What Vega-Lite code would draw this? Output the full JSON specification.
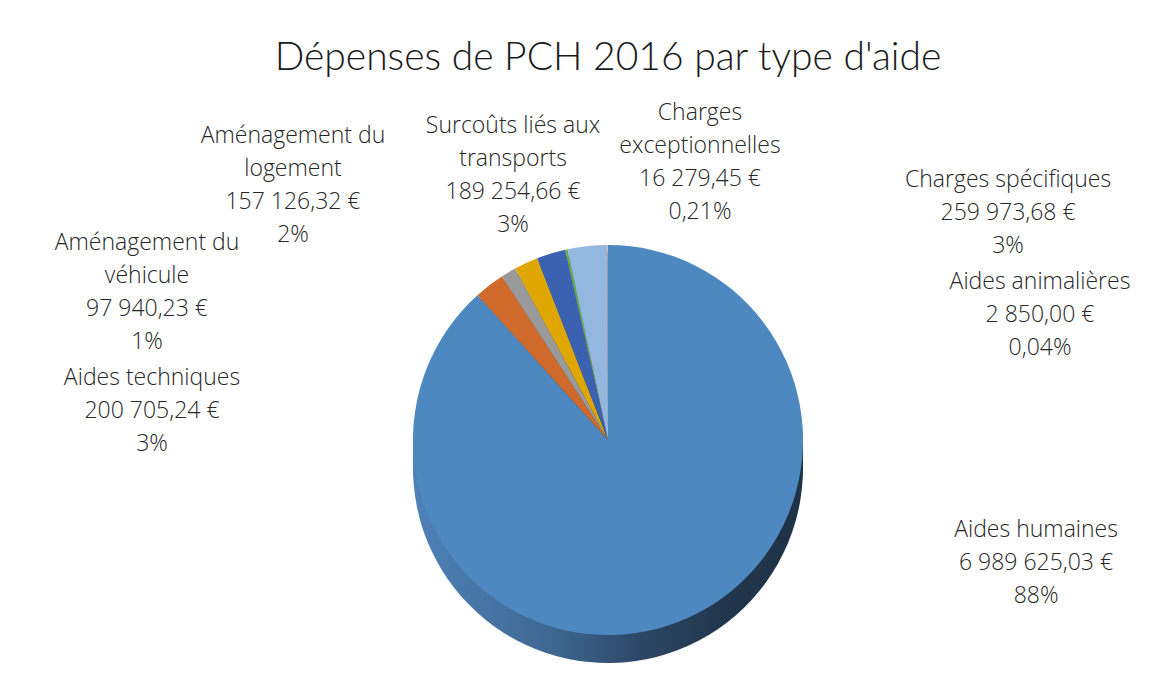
{
  "$schema": "https://vega.github.io/schema/vega-lite/v6.json",
  "autosize": {"type": "none"},
  "width": 1120,
  "height": 470,
  "padding": {"left": 48, "top": 205, "right": 0, "bottom": 0},
  "background": "#ffffff",
  "config": {"view": {"stroke": null}},
  "title": {
    "text": "Dépenses de PCH 2016 par type d'aide",
    "font": "Lato",
    "fontSize": 39,
    "fontWeight": 300,
    "color": "#1a1a1a",
    "anchor": "middle",
    "offset": 24
  },
  "data": {
    "values": [
      {"Rang": 1, "Type": "Aides humaines", "Montant": 6989625.03, "Libelle": "Aides humaines\n6 989 625,03 €\n88%"},
      {"Rang": 2, "Type": "Aides techniques", "Montant": 200705.24, "Libelle": "Aides techniques\n200 705,24 €\n3%"},
      {"Rang": 3, "Type": "Aménagement du véhicule", "Montant": 97940.23, "Libelle": "Aménagement du\nvéhicule\n97 940,23 €\n1%"},
      {"Rang": 4, "Type": "Aménagement du logement", "Montant": 157126.32, "Libelle": "Aménagement du\nlogement\n157 126,32 €\n2%"},
      {"Rang": 5, "Type": "Surcoûts liés aux transports", "Montant": 189254.66, "Libelle": "Surcoûts liés aux\ntransports\n189 254,66 €\n3%"},
      {"Rang": 6, "Type": "Charges exceptionnelles", "Montant": 16279.45, "Libelle": "Charges\nexceptionnelles\n16 279,45 €\n0,21%"},
      {"Rang": 7, "Type": "Charges spécifiques", "Montant": 259973.68, "Libelle": "Charges spécifiques\n259 973,68 €\n3%"},
      {"Rang": 8, "Type": "Aides animalières", "Montant": 2850.00, "Libelle": "Aides animalières\n2 850,00 €\n0,04%"}
    ]
  },
  "layer": [
    {
      "mark": {"type": "arc", "outerRadius": 195, "yOffset": 28, "stroke": null,
        "fill": {"gradient": "linear", "x1": 0, "x2": 1, "y1": 0, "y2": 0,
          "stops": [{"offset": 0, "color": "#4E82B8"}, {"offset": 0.35, "color": "#3F6892"}, {"offset": 0.6, "color": "#2B4563"}, {"offset": 0.8, "color": "#22364C"}, {"offset": 1, "color": "#1F3145"}]}},
      "encoding": {
        "theta": {"field": "Montant", "type": "quantitative", "stack": true},
        "order": {"field": "Rang", "type": "quantitative"},
        "detail": {"field": "Type", "type": "nominal"}
      }
    },
    {
      "mark": {"type": "arc", "outerRadius": 195, "yOffset": 21, "stroke": null,
        "fill": {"gradient": "linear", "x1": 0, "x2": 1, "y1": 0, "y2": 0,
          "stops": [{"offset": 0, "color": "#4E82B8"}, {"offset": 0.35, "color": "#3F6892"}, {"offset": 0.6, "color": "#2B4563"}, {"offset": 0.8, "color": "#22364C"}, {"offset": 1, "color": "#1F3145"}]}},
      "encoding": {
        "theta": {"field": "Montant", "type": "quantitative", "stack": true},
        "order": {"field": "Rang", "type": "quantitative"},
        "detail": {"field": "Type", "type": "nominal"}
      }
    },
    {
      "mark": {"type": "arc", "outerRadius": 195, "yOffset": 14, "stroke": null,
        "fill": {"gradient": "linear", "x1": 0, "x2": 1, "y1": 0, "y2": 0,
          "stops": [{"offset": 0, "color": "#4E82B8"}, {"offset": 0.35, "color": "#3F6892"}, {"offset": 0.6, "color": "#2B4563"}, {"offset": 0.8, "color": "#22364C"}, {"offset": 1, "color": "#1F3145"}]}},
      "encoding": {
        "theta": {"field": "Montant", "type": "quantitative", "stack": true},
        "order": {"field": "Rang", "type": "quantitative"},
        "detail": {"field": "Type", "type": "nominal"}
      }
    },
    {
      "mark": {"type": "arc", "outerRadius": 195, "yOffset": 7, "stroke": null,
        "fill": {"gradient": "linear", "x1": 0, "x2": 1, "y1": 0, "y2": 0,
          "stops": [{"offset": 0, "color": "#4E82B8"}, {"offset": 0.35, "color": "#3F6892"}, {"offset": 0.6, "color": "#2B4563"}, {"offset": 0.8, "color": "#22364C"}, {"offset": 1, "color": "#1F3145"}]}},
      "encoding": {
        "theta": {"field": "Montant", "type": "quantitative", "stack": true},
        "order": {"field": "Rang", "type": "quantitative"},
        "detail": {"field": "Type", "type": "nominal"}
      }
    },
    {
      "mark": {"type": "arc", "outerRadius": 195, "stroke": null},
      "encoding": {
        "theta": {"field": "Montant", "type": "quantitative", "stack": true},
        "order": {"field": "Rang", "type": "quantitative"},
        "color": {
          "field": "Type", "type": "nominal", "legend": null,
          "scale": {
            "domain": ["Aides humaines", "Aides techniques", "Aménagement du véhicule", "Aménagement du logement", "Surcoûts liés aux transports", "Charges exceptionnelles", "Charges spécifiques", "Aides animalières"],
            "range": ["#4E88C0", "#D06A2C", "#9A9A9A", "#E0A600", "#3A62B0", "#6AAA4A", "#94B7DF", "#F0A070"]
          }
        }
      }
    },
    {
      "mark": {"type": "text", "font": "Open Sans", "fontSize": 23, "fontWeight": 300, "lineHeight": 33, "lineBreak": "\n", "align": "center", "baseline": "middle", "color": "#262626"},
      "encoding": {
        "theta": {"field": "Montant", "type": "quantitative", "stack": null,
          "scale": {"type": "linear", "zero": false, "nice": false,
            "domain": [2850, 16279.45, 97940.23, 157126.32, 189254.66, 200705.24, 259973.68, 6989625.03],
            "range": [7.5033, 6.5574, 5.1162, 5.4800, 5.9895, 4.8474, 7.2777, 1.7781]}},
        "radius": {"field": "Montant", "type": "quantitative",
          "scale": {"type": "linear", "zero": false, "nice": false,
            "domain": [2850, 16279.45, 97940.23, 157126.32, 189254.66, 200705.24, 259973.68, 6989625.03],
            "range": [460.0, 339.7, 501.3, 437.8, 328.1, 460.2, 477.1, 437.4]}},
        "text": {"field": "Libelle", "type": "nominal"}
      }
    }
  ],
  "resolve": {"scale": {"theta": "independent", "radius": "independent"}}
}
